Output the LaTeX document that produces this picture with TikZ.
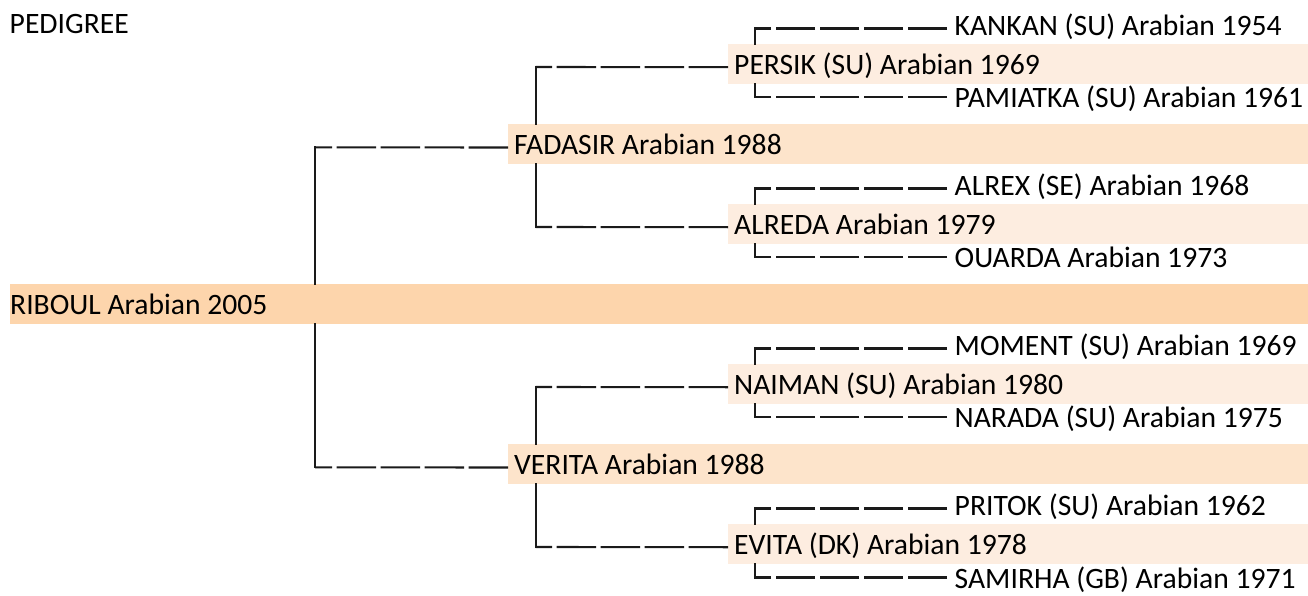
\documentclass[tikz,border=0pt]{standalone}
\usepackage{fontspec}
\setmainfont{Carlito}
\definecolor{czero}{HTML}{FDD5AC}
\definecolor{cone}{HTML}{FDE4CB}
\definecolor{ctwo}{HTML}{FDEDE0}
\definecolor{lncol}{HTML}{1A1A1A}
\begin{document}
\begin{tikzpicture}[x=1pt,y=1pt,
  font=\fontsize{29.6}{35}\selectfont,
  bandbox/.style={rectangle, anchor=north west, inner ysep=0pt, inner xsep=6pt,
    text height=30.7pt, text depth=9.3pt, align=flush left, text width=#1},
  bandone/.style={bandbox=788pt, fill=cone},
  bandtwo/.style={bandbox=568pt, fill=ctwo},
  kidup/.style={anchor=west, inner ysep=0pt, inner xsep=7.5pt, text height=20pt, text depth=6pt},
  kiddown/.style={anchor=west, inner ysep=0pt, inner xsep=7.5pt, text height=27pt, text depth=6pt},
  dl/.style={draw=lncol, line width=2.1pt, dash pattern=on 39.5pt off 4.5pt},
  vl/.style={draw=lncol, line width=2.1pt, line cap=rect}]
\useasboundingbox (0,0) rectangle (1308,-596);

% title
\node[anchor=base west, inner sep=0pt] (title) at (9.5,-34) {PEDIGREE};

% generation 0
\node[bandbox=1298pt, fill=czero, inner xsep=0pt] (riboul) at (10,-284) {RIBOUL Arabian 2005};

% generation 1
\node[bandone] (fadasir) at (508,-124) {FADASIR Arabian 1988};
\node[bandone] (verita) at (508,-444) {VERITA Arabian 1988};

% generation 2
\node[bandtwo] (persik) at (728,-44) {PERSIK (SU) Arabian 1969};
\node[bandtwo] (alreda) at (728,-204) {ALREDA Arabian 1979};
\node[bandtwo] (naiman) at (728,-364) {NAIMAN (SU) Arabian 1980};
\node[bandtwo] (evita) at (728,-524) {EVITA (DK) Arabian 1978};

% generation 3
\node[kidup] (kankan) at (947,-28.5) {KANKAN (SU) Arabian 1954};
\node[kiddown] (pamiatka) at (947,-97.3) {PAMIATKA (SU) Arabian 1961};
\node[kidup] (alrex) at (947,-188.5) {ALREX (SE) Arabian 1968};
\node[kiddown] (ouarda) at (947,-257.3) {OUARDA Arabian 1973};
\node[kidup] (moment) at (947,-348.5) {MOMENT (SU) Arabian 1969};
\node[kiddown] (narada) at (947,-417.3) {NARADA (SU) Arabian 1975};
\node[kidup] (pritok) at (947,-508.5) {PRITOK (SU) Arabian 1962};
\node[kiddown] (samirha) at (947,-577.5) {SAMIRHA (GB) Arabian 1971};

% connectors generation 3
\coordinate (ka) at (755,-28.5);
\coordinate (kb) at (755,-97.3);
\coordinate (kc) at (755,-188.5);
\coordinate (kd) at (755,-257.3);
\coordinate (ke) at (755,-348.5);
\coordinate (kf) at (755,-417.3);
\coordinate (kg) at (755,-508.5);
\coordinate (kh) at (755,-577.5);
\draw[dl] (kankan.west) -- (ka);   \draw[vl] (ka) -- (persik.north -| ka);
\draw[dl] (pamiatka.west) -- (kb); \draw[vl] (kb) -- (persik.south -| kb);
\draw[dl] (alrex.west) -- (kc);    \draw[vl] (kc) -- (alreda.north -| kc);
\draw[dl] (ouarda.west) -- (kd);   \draw[vl] (kd) -- (alreda.south -| kd);
\draw[dl] (moment.west) -- (ke);   \draw[vl] (ke) -- (naiman.north -| ke);
\draw[dl] (narada.west) -- (kf);   \draw[vl] (kf) -- (naiman.south -| kf);
\draw[dl] (pritok.west) -- (kg);   \draw[vl] (kg) -- (evita.north -| kg);
\draw[dl] (samirha.west) -- (kh);  \draw[vl] (kh) -- (evita.south -| kh);

% connectors generation 2
\coordinate (ma) at (535.7,-67);
\coordinate (mb) at (535.7,-227);
\coordinate (mc) at (535.7,-387);
\coordinate (md) at (535.7,-547);
\draw[dl] ([yshift=-3pt]persik.west) -- (ma); \draw[vl] (ma) -- (fadasir.north -| ma);
\draw[dl] ([yshift=-3pt]alreda.west) -- (mb); \draw[vl] (mb) -- (fadasir.south -| mb);
\draw[dl] ([yshift=-3pt]naiman.west) -- (mc); \draw[vl] (mc) -- (verita.north -| mc);
\draw[dl] ([yshift=-3pt]evita.west) -- (md);  \draw[vl] (md) -- (verita.south -| md);

% connectors generation 1
\coordinate (ra) at (315,-147.3);
\coordinate (rb) at (315,-467.3);
\draw[dl] ([yshift=-3.3pt]fadasir.west) -- (ra); \draw[vl] (ra) -- (riboul.north -| ra);
\draw[dl] ([yshift=-3.3pt]verita.west) -- (rb);  \draw[vl] (rb) -- (riboul.south -| rb);
\end{tikzpicture}
\end{document}
